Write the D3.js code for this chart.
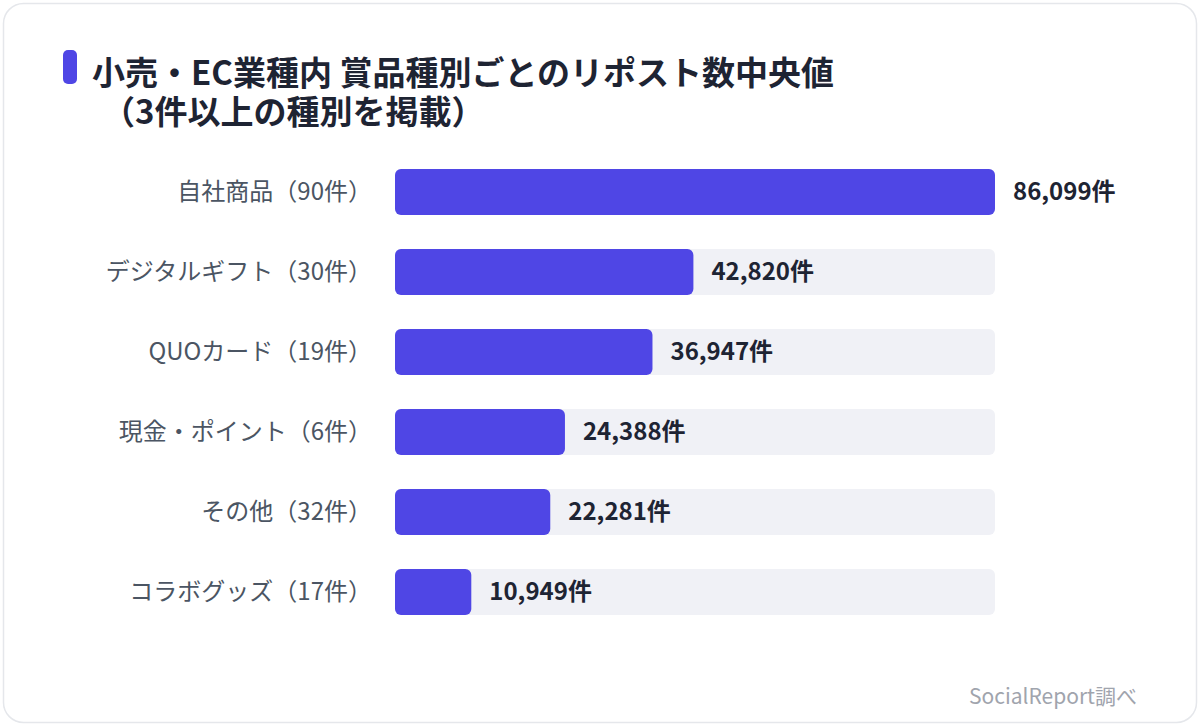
<!DOCTYPE html>
<html lang="ja">
<head>
<meta charset="utf-8">
<script src="https://cdn.jsdelivr.net/npm/d3@7/dist/d3.min.js"></script>
<style>
  html, body { margin: 0; padding: 0; background: #ffffff; }
  svg { display: block; font-family: "Noto Sans CJK JP", "Noto Sans", sans-serif; }
</style>
</head>
<body>
<svg id="chart" width="1200" height="726"></svg>
<script>
// Chart data
const categories = ['自社商品（90件）', 'デジタルギフト（30件）', 'QUOカード（19件）', '現金・ポイント（6件）', 'その他（32件）', 'コラボグッズ（17件）'];
const medianReposts = [86099, 42820, 36947, 24388, 22281, 10949];
const titleLines = ['小売・EC業種内 賞品種別ごとのリポスト数中央値', '（3件以上の種別を掲載）'];
const sourceNote = 'SocialReport調べ';

const svg = d3.select('#chart');
const W = 1200, H = 726;

// Card background
svg.append('rect')
    .attr('x', 3.5).attr('y', 3.5)
    .attr('width', W - 7).attr('height', H - 7)
    .attr('rx', 20)
    .attr('fill', '#ffffff')
    .attr('stroke', '#e5e7eb')
    .attr('stroke-width', 1.5);

// Title accent
svg.append('rect')
    .attr('x', 63).attr('y', 50)
    .attr('width', 14).attr('height', 34)
    .attr('rx', 5)
    .attr('fill', '#4f46e5');

svg.append('text')
    .attr('x', 92).attr('y', 85)
    .attr('font-size', 33).attr('font-weight', 700)
    .attr('fill', '#1e2433')
    .text(titleLines[0]);

svg.append('text')
    .attr('x', 102).attr('y', 124)
    .attr('font-size', 33).attr('font-weight', 700)
    .attr('fill', '#1e2433')
    .text(titleLines[1]);

// Scales
const x = d3.scaleLinear()
    .domain([0, d3.max(medianReposts)])
    .range([395, 995]);

const y = d3.scaleBand()
    .domain(categories)
    .range([152, 632])
    .paddingInner(0.425)
    .paddingOuter(0.2125);

const rows = svg.append('g')
    .selectAll('g')
    .data(categories)
    .join('g');

// Track
rows.append('rect')
    .attr('x', x(0))
    .attr('y', d => y(d))
    .attr('width', x.range()[1] - x(0))
    .attr('height', y.bandwidth())
    .attr('rx', 6)
    .attr('fill', '#f0f1f6');

// Bars
rows.append('rect')
    .attr('x', x(0))
    .attr('y', d => y(d))
    .attr('width', (d, i) => x(medianReposts[i]) - x(0))
    .attr('height', y.bandwidth())
    .attr('rx', 6)
    .attr('fill', '#4f46e5');

// Category labels
rows.append('text')
    .attr('x', 372)
    .attr('y', d => y(d) + y.bandwidth() / 2)
    .attr('dy', '0.35em')
    .attr('text-anchor', 'end')
    .attr('font-size', 24)
    .attr('fill', '#4b5563')
    .text(d => d);

// Value labels
const fmt = d3.format(',');
rows.append('text')
    .attr('x', (d, i) => x(medianReposts[i]) + 18)
    .attr('y', d => y(d) + y.bandwidth() / 2)
    .attr('dy', '0.35em')
    .attr('font-size', 24)
    .attr('font-weight', 700)
    .attr('fill', '#1e2433')
    .text((d, i) => fmt(medianReposts[i]) + '件');

// Source
svg.append('text')
    .attr('x', 1137).attr('y', 704)
    .attr('text-anchor', 'end')
    .attr('font-size', 21)
    .attr('fill', '#a0a4ad')
    .text(sourceNote);
</script>
</body>
</html>
